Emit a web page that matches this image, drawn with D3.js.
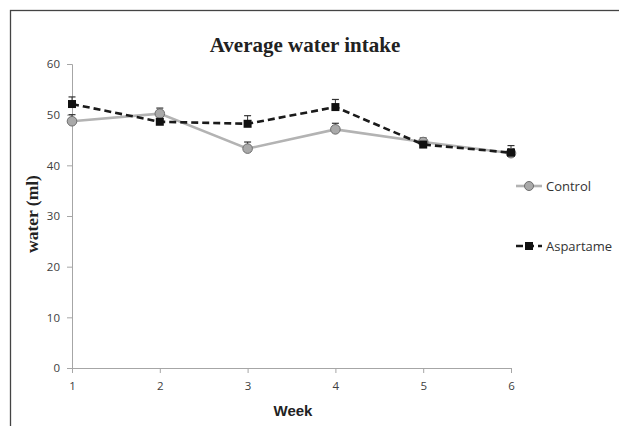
<!DOCTYPE html>
<html>
<head>
<meta charset="utf-8">
<script src="https://cdn.jsdelivr.net/npm/d3@7"></script>
<style>
  body { margin: 0; background: #fff; }
  svg { display: block; }
</style>
</head>
<body>
<svg id="chart" width="619" height="426"></svg>
<script>
//Data
const weeks = [1, 2, 3, 4, 5, 6];
const controlValues = [48.7, 50.2, 43.3, 47.1, 44.6, 42.4];
const controlErrors = [1.3, 1.1, 1.3, 1.2, 0.8, 0.9];
const aspartameValues = [52.1, 48.6, 48.2, 51.5, 44.1, 42.5];
const aspartameErrors = [1.4, 0.6, 1.6, 1.5, 0.9, 1.4];
const yTicks = [0, 10, 20, 30, 40, 50, 60];

//Measuring (in px)
let plotLeft = 72, plotRight = 511, plotTop = 64, plotBottom = 368;

const svg = d3.select("#chart");

//Outer frame
svg.append("rect")
  .attr("x", 10.5).attr("y", 10.5)
  .attr("width", 640).attr("height", 440)
  .attr("fill", "none")
  .attr("stroke", "#444")
  .attr("stroke-width", 1.3);

let xScale = d3.scaleLinear().domain([1, 6]).range([plotLeft, plotRight]);
let yScale = d3.scaleLinear().domain([0, 60]).range([plotBottom, plotTop]);

//Y axis
const yAxis = svg.append("g")
  .attr("transform", `translate(${plotLeft},0)`)
  .call(d3.axisLeft(yScale).tickValues(yTicks).tickSize(5).tickPadding(7).tickFormat(d3.format("d")));

//X axis
const xAxis = svg.append("g")
  .attr("transform", `translate(0,${plotBottom})`)
  .call(d3.axisBottom(xScale).tickValues(weeks).tickSize(5).tickPadding(9).tickFormat(d3.format("d")));

[yAxis, xAxis].forEach(ax => {
  ax.attr("color", "#a6a6a6");
  ax.selectAll("text")
    .attr("fill", "#404040")
    .style("font-family", "'Open Sans', 'Liberation Sans', sans-serif")
    .style("font-size", "11.5px");
});

//Title and axis labels
svg.append("text")
  .attr("x", 305).attr("y", 52)
  .attr("text-anchor", "middle")
  .style("font-family", "'Liberation Serif', 'DejaVu Serif', serif")
  .style("font-weight", "bold")
  .style("font-size", "21px")
  .attr("fill", "#222")
  .text("Average water intake");

svg.append("text")
  .attr("transform", "translate(38,214) rotate(-90)")
  .attr("text-anchor", "middle")
  .style("font-family", "'Liberation Serif', 'DejaVu Serif', serif")
  .style("font-weight", "bold")
  .style("font-size", "17.5px")
  .attr("fill", "#222")
  .text("water (ml)");

svg.append("text")
  .attr("x", 293).attr("y", 416)
  .attr("text-anchor", "middle")
  .style("font-family", "'Liberation Sans', Arial, sans-serif")
  .style("font-weight", "bold")
  .style("font-size", "15px")
  .attr("fill", "#222")
  .text("Week");

const line = d3.line()
  .x((d, i) => xScale(weeks[i]))
  .y(d => yScale(d));

//Error bars (upper)
function errorBars(values, errors) {
  const g = svg.append("g");
  g.selectAll("line.err")
    .data(values)
    .enter()
    .append("line")
    .attr("x1", (d, i) => xScale(weeks[i]))
    .attr("x2", (d, i) => xScale(weeks[i]))
    .attr("y1", d => yScale(d))
    .attr("y2", (d, i) => yScale(d + errors[i]))
    .attr("stroke", "#333").attr("stroke-width", 1);
  g.selectAll("line.cap")
    .data(values)
    .enter()
    .append("line")
    .attr("x1", (d, i) => xScale(weeks[i]) - 3.5)
    .attr("x2", (d, i) => xScale(weeks[i]) + 3.5)
    .attr("y1", (d, i) => yScale(d + errors[i]))
    .attr("y2", (d, i) => yScale(d + errors[i]))
    .attr("stroke", "#333").attr("stroke-width", 1.2);
}

errorBars(controlValues, controlErrors);
errorBars(aspartameValues, aspartameErrors);

//Control series
svg.append("path")
  .datum(controlValues)
  .attr("d", line)
  .attr("fill", "none")
  .attr("stroke", "#b3b3b3")
  .attr("stroke-width", 2.6);

svg.selectAll("circle.control")
  .data(controlValues)
  .enter()
  .append("circle")
  .attr("cx", (d, i) => xScale(weeks[i]))
  .attr("cy", d => yScale(d))
  .attr("r", 4.8)
  .attr("fill", "#a9a9a9")
  .attr("stroke", "#6e6e6e")
  .attr("stroke-width", 1);

//Aspartame series
svg.append("path")
  .datum(aspartameValues)
  .attr("d", line)
  .attr("fill", "none")
  .attr("stroke", "#1a1a1a")
  .attr("stroke-width", 2.6)
  .attr("stroke-dasharray", "7,4");

svg.selectAll("rect.asp")
  .data(aspartameValues)
  .enter()
  .append("rect")
  .attr("x", (d, i) => xScale(weeks[i]) - 4)
  .attr("y", d => yScale(d) - 4)
  .attr("width", 8).attr("height", 8)
  .attr("fill", "#111");

//Legend
const legend = svg.append("g");
legend.append("line")
  .attr("x1", 516).attr("x2", 542).attr("y1", 186).attr("y2", 186)
  .attr("stroke", "#b3b3b3").attr("stroke-width", 2.6);
legend.append("circle")
  .attr("cx", 529).attr("cy", 186).attr("r", 4.5)
  .attr("fill", "#a9a9a9").attr("stroke", "#6e6e6e");
legend.append("text")
  .attr("x", 546).attr("y", 191)
  .style("font-family", "'Open Sans', 'Liberation Sans', sans-serif")
  .style("font-size", "13px")
  .attr("fill", "#333")
  .text("Control");

legend.append("line")
  .attr("x1", 516).attr("x2", 542).attr("y1", 246).attr("y2", 246)
  .attr("stroke", "#1a1a1a").attr("stroke-width", 2.6)
  .attr("stroke-dasharray", "7,4");
legend.append("rect")
  .attr("x", 525).attr("y", 242).attr("width", 8).attr("height", 8)
  .attr("fill", "#111");
legend.append("text")
  .attr("x", 546).attr("y", 251)
  .style("font-family", "'Open Sans', 'Liberation Sans', sans-serif")
  .style("font-size", "13px")
  .attr("fill", "#333")
  .text("Aspartame");
</script>
</body>
</html>
